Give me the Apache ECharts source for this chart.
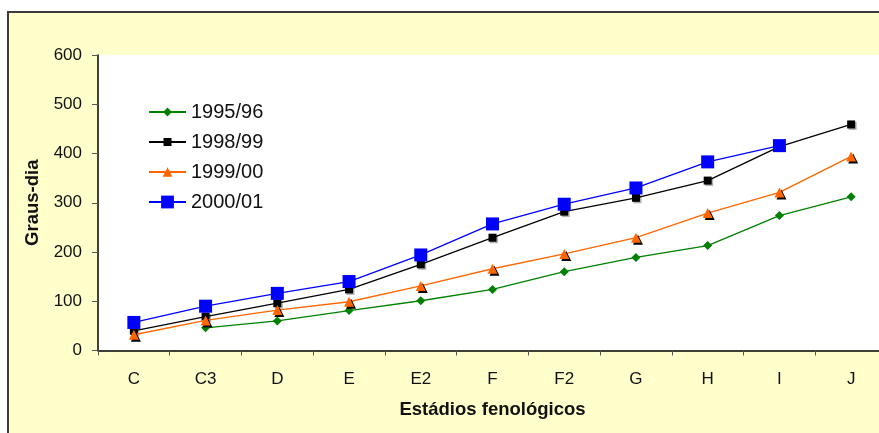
<!DOCTYPE html>
<html>
<head>
<meta charset="utf-8">
<script src="https://cdn.jsdelivr.net/npm/echarts@6/dist/echarts.min.js"></script>
<style>
  html, body { margin: 0; padding: 0; background: #fff; }
  #chart { width: 879px; height: 433px; }
</style>
</head>
<body>
<div id="chart"></div>
<script>
// Phenological stages on the x axis
const stages = ['C', 'C3', 'D', 'E', 'E2', 'F', 'F2', 'G', 'H', 'I', 'J'];
// Accumulated degree-days per season
const s1995 = [null, 46, 60, 81, 101, 124, 160, 189, 213, 274, 312];
const s1998 = [40, 69, 96, 124, 175, 229, 282, 310, 345, 414, 459];
const s1999 = [32, 61, 82, 99, 131, 166, 196, 229, 279, 321, 394];
const s2000 = [57, 90, 116, 140, 194, 257, 297, 330, 383, 416, null];
const yTicks = [0, 100, 200, 300, 400, 500, 600];

const FONT = '"Liberation Sans", Arial, sans-serif';
const chart = echarts.init(document.getElementById('chart'), null, { renderer: 'canvas' });

function legendFor(name, top, h) {
  return {
    data: [name], orient: 'vertical', left: 148, top: top, padding: 0,
    itemWidth: 37, itemHeight: h, itemGap: 0,
    textStyle: { fontFamily: FONT, fontSize: 20, color: '#111' },
    itemStyle: { shadowBlur: 0, shadowOffsetX: 0, shadowOffsetY: 0, shadowColor: 'transparent' }
  };
}

chart.setOption({
  animation: false,
  graphic: [{
    type: 'rect', z: -10, silent: true,
    shape: { x: 8, y: 12, width: 900, height: 450 },
    style: { fill: '#FFFFCC', stroke: '#3a3a3a', lineWidth: 2 }
  }],
  grid: {
    left: 98, top: 55, right: -8, bottom: 82.5,
    outerBoundsMode: 'none', containLabel: false,
    show: true, backgroundColor: '#ffffff', borderWidth: 0
  },
  legend: [
    legendFor('1995/96', 102, 11),
    legendFor('1998/99', 132, 10),
    legendFor('1999/00', 162, 12),
    legendFor('2000/01', 192, 16)
  ],
  xAxis: {
    type: 'category', data: stages, boundaryGap: true,
    name: 'Estádios fenológicos', nameLocation: 'middle', nameGap: 50,
    nameTextStyle: { fontFamily: FONT, fontSize: 18.5, fontWeight: 'bold', color: '#111' },
    axisLine: { lineStyle: { color: '#000', width: 1.5 } },
    axisTick: { show: true, inside: false, length: 5, lineStyle: { color: '#555' } },
    axisLabel: { fontFamily: FONT, fontSize: 17, color: '#111', margin: 20 },
    splitLine: { show: false }
  },
  yAxis: {
    type: 'value', min: yTicks[0], max: yTicks[yTicks.length - 1], interval: 100,
    name: 'Graus-dia', nameLocation: 'middle', nameGap: 56, nameRotate: 90,
    nameTextStyle: { fontFamily: FONT, fontSize: 18.5, fontWeight: 'bold', color: '#111' },
    axisLine: { show: true, lineStyle: { color: '#000', width: 1.5 } },
    axisTick: { show: true, inside: false, length: 6, lineStyle: { color: '#555' } },
    axisLabel: { fontFamily: FONT, fontSize: 17, color: '#111', margin: 16 },
    splitLine: { show: false }
  },
  series: [
    {
      name: '1995/96', type: 'line', data: s1995, connectNulls: false,
      symbol: 'diamond', symbolSize: 9, z: 2,
      lineStyle: { color: '#008000', width: 1.3 },
      itemStyle: { color: '#008000' }
    },
    {
      name: '1998/99', type: 'line', data: s1998,
      symbol: 'rect', symbolSize: 8, z: 3,
      lineStyle: { color: '#000000', width: 1.3 },
      itemStyle: { color: '#000000', shadowColor: 'rgba(0,0,0,0.3)', shadowOffsetX: 1.5, shadowOffsetY: 1.5, shadowBlur: 0 }
    },
    {
      name: '1999/00', type: 'line', data: s1999,
      symbol: 'triangle', symbolSize: 10, z: 4,
      lineStyle: { color: '#FF6600', width: 1.3 },
      itemStyle: { color: '#FF6600', shadowColor: '#000', shadowOffsetX: 2, shadowOffsetY: 2, shadowBlur: 0 }
    },
    {
      name: '2000/01', type: 'line', data: s2000,
      symbol: 'rect', symbolSize: 13, z: 5,
      lineStyle: { color: '#0000FF', width: 1.3 },
      itemStyle: { color: '#0000FF' }
    }
  ]
});
</script>
</body>
</html>
